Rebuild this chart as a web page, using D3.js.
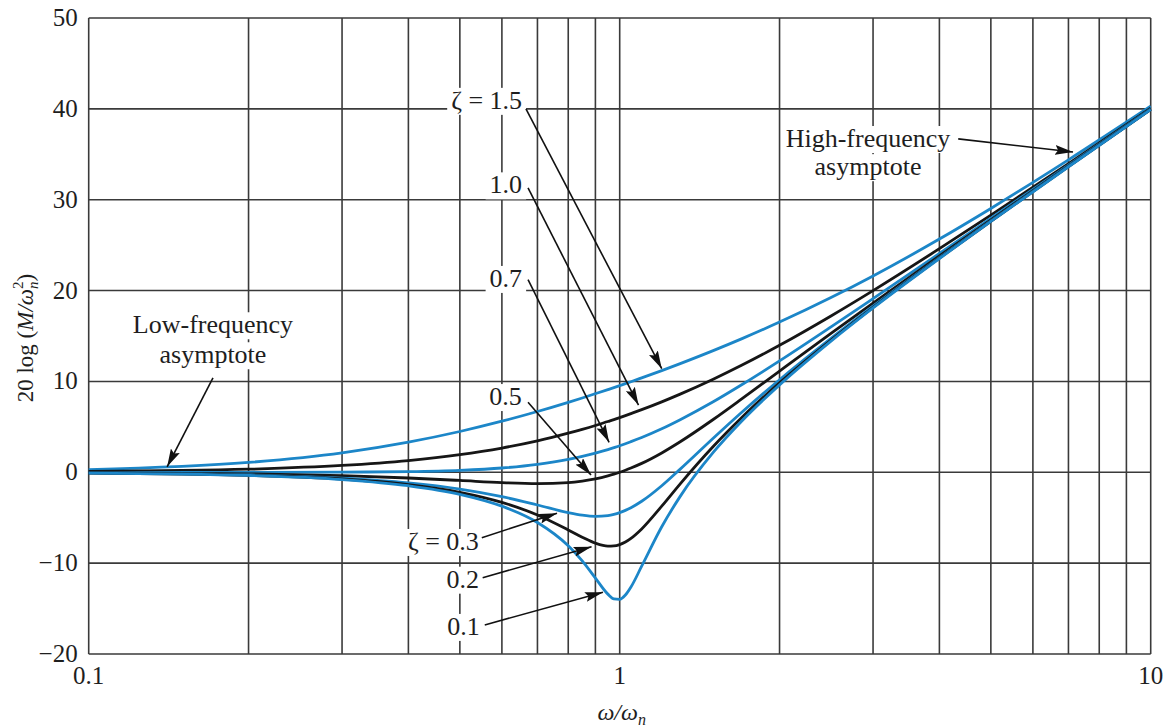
<!DOCTYPE html>
<html><head><meta charset="utf-8">
<script src="https://cdn.jsdelivr.net/npm/d3@7"></script>
<style>
body{margin:0;background:#fff}
svg{display:block}
text{font-family:"Liberation Serif","Times New Roman",serif;fill:#1e1e1e}
</style>
</head><body>
<svg id="chart" width="1172" height="728"></svg>
<script>
// ---- data ----
const ratio  = [0.1,0.2,0.3,0.4,0.5,0.6,0.7,0.8,0.85,0.9,0.95,0.975,1.0,1.025,1.05,1.1,1.2,1.3,1.5,1.7,2,2.5,3,4,5,7,10];
const zeta15 = [0.29,1.08,2.14,3.32,4.49,5.62,6.69,7.70,8.18,8.65,9.10,9.32,9.54,9.76,9.97,10.39,11.19,11.96,13.39,14.71,16.53,19.23,21.61,25.67,29.04,34.39,40.29];
const zeta10 = [0.09,0.34,0.75,1.29,1.94,2.67,3.46,4.30,4.72,5.15,5.59,5.80,6.02,6.24,6.46,6.89,7.75,8.60,10.24,11.80,13.98,17.21,20.00,24.61,28.30,33.98,40.09];
const zeta07 = [0.00,0.00,0.02,0.08,0.22,0.47,0.87,1.41,1.74,2.11,2.50,2.71,2.92,3.14,3.37,3.83,4.79,5.79,7.76,9.66,12.26,16.00,19.12,24.09,27.96,33.80,40.00];
const zeta05 = [-0.04,-0.17,-0.37,-0.63,-0.90,-1.14,-1.25,-1.14,-0.97,-0.73,-0.40,-0.21,0.00,0.23,0.47,0.98,2.13,3.36,5.81,8.10,11.14,15.29,18.63,23.82,27.79,33.72,39.96];
const zeta03 = [-0.07,-0.29,-0.65,-1.17,-1.85,-2.68,-3.60,-4.44,-4.72,-4.85,-4.76,-4.63,-4.44,-4.19,-3.90,-3.19,-1.48,0.35,3.75,6.64,10.19,14.74,18.28,23.63,27.67,33.66,39.93];
const zeta02 = [-0.08,-0.33,-0.74,-1.36,-2.20,-3.31,-4.70,-6.35,-7.15,-7.81,-8.13,-8.11,-7.96,-7.68,-7.28,-6.24,-3.73,-1.27,2.84,6.06,9.84,14.56,18.16,23.57,27.63,33.64,39.92];
const zeta01 = [-0.09,-0.35,-0.80,-1.48,-2.42,-3.73,-5.53,-8.09,-9.75,-11.64,-13.41,-13.93,-13.98,-13.51,-12.63,-10.34,-6.00,-2.65,2.18,5.67,9.62,14.44,18.09,23.53,27.61,33.63,39.92];
const seriesNames = ["1.5","1.0","0.7","0.5","0.3","0.2","0.1"];
const seriesValues = [zeta15,zeta10,zeta07,zeta05,zeta03,zeta02,zeta01];
const yTicks = [-20,-10,0,10,20,30,40,50];
const yTickLabels = ["\u221220","\u221210","0","10","20","30","40","50"];
const xTicks = [0.1,1,10];
const xTickLabels = ["0.1","1","10"];

// annotation labels: text, anchor point (ratio, dB), arrow from (ratio,dB) to (ratio,dB)
const annLabels = ["\u03B6 = 1.5","1.0","0.7","0.5","\u03B6 = 0.3","0.2","0.1"];
const annAt     = [[0.655,40.0],[0.655,30.7],[0.655,20.4],[0.654,7.4],[0.543,-8.55],[0.543,-12.7],[0.545,-17.9]];
const annFrom   = [[0.666,40.0],[0.672,31.3],[0.672,21.2],[0.672,7.7],[0.550,-7.2],[0.552,-11.6],[0.557,-16.8]];
const annTo     = [[1.20,11.4],[1.085,7.4],[0.955,3.3],[0.883,-0.3],[0.762,-4.5],[0.885,-8.2],[0.930,-13.2]];
const asymLabels = [["Low-frequency","asymptote"],["High-frequency","asymptote"]];
const asymAt     = [[0.1714,15.3,12.0],[2.935,35.8,32.7]];
const asymFrom   = [[0.1714,10.4],[4.34,36.7]];
const asymTo     = [[0.1405,0.6],[7.14,35.25]];

// ---- styles ----
const blue = "#1c86c8", black = "#161616", grid = "#3a3a3a";
const seriesColors = [blue,black,blue,black,blue,black,blue];

const svg = d3.select("#chart");
const x = d3.scaleLog().domain([0.1,10]).range([88.7,1150.7]);
const y = d3.scaleLinear().domain([-20,50]).range([654,18]);

// grid
const g = svg.append("g");
g.selectAll("line.v").data(x.ticks()).join("line")
  .attr("x1",d=>x(d)).attr("x2",d=>x(d)).attr("y1",y(-20)).attr("y2",y(50))
  .attr("stroke",grid).attr("stroke-width",1.6);
g.selectAll("line.h").data(yTicks).join("line")
  .attr("x1",x(0.1)).attr("x2",x(10)).attr("y1",d=>y(d)).attr("y2",d=>y(d))
  .attr("stroke",grid).attr("stroke-width",1.6);

// tick labels
svg.append("g").selectAll("text").data(yTicks).join("text")
  .attr("x",x(0.1)-11).attr("y",d=>y(d)+8).attr("text-anchor","end")
  .attr("font-size",25).text((d,i)=>yTickLabels[i]);
svg.append("g").selectAll("text").data(xTicks).join("text")
  .attr("x",d=>x(d)).attr("y",y(-20)+30).attr("text-anchor","middle")
  .attr("font-size",25).text((d,i)=>xTickLabels[i]);

// axis titles
const xt = svg.append("text").attr("x",x(1)+2).attr("y",720).attr("text-anchor","middle").attr("font-size",24);
xt.append("tspan").attr("font-style","italic").text("\u03C9/\u03C9");
xt.append("tspan").attr("font-style","italic").attr("font-size",16).attr("dy",5).text("n");
const yt = svg.append("text").attr("transform","translate(33,338) rotate(-90)").attr("text-anchor","middle").attr("font-size",23);
yt.append("tspan").text("20 log (");
yt.append("tspan").attr("font-style","italic").text("M/\u03C9");
yt.append("tspan").attr("font-size",15).attr("dy",-10).text("2");
yt.append("tspan").attr("font-size",15).attr("font-style","italic").attr("dx",-7.5).attr("dy",15).text("n");
yt.append("tspan").attr("dy",-5).text(")");

// curves
const line = d3.line().x(d=>x(d[0])).y(d=>y(d[1])).curve(d3.curveMonotoneX);
svg.append("g").selectAll("path").data(seriesValues).join("path")
  .attr("d",vals=>line(ratio.map((r,i)=>[r,vals[i]])))
  .attr("fill","none").attr("stroke",(d,i)=>seriesColors[i]).attr("stroke-width",2.8)
  .attr("stroke-linejoin","round");

// arrow marker
svg.append("defs").append("marker").attr("id","ah")
  .attr("markerUnits","userSpaceOnUse").attr("markerWidth",20).attr("markerHeight",10)
  .attr("refX",18).attr("refY",5).attr("orient","auto")
  .append("path").attr("d","M0,0 L18,5 L0,10 L3,5 Z").attr("fill","#111");

function maskedText(parent, tx, ty, str, anchor){
  const grp = parent.append("g");
  const rect = grp.append("rect").attr("fill","#fff");
  const t = grp.append("text").attr("x",tx).attr("y",ty).attr("text-anchor",anchor).attr("font-size",26).text(str);
  const b = t.node().getBBox();
  rect.attr("x",b.x-4).attr("y",b.y+2).attr("width",b.width+8).attr("height",b.height-2);
}

const ann = svg.append("g");
annLabels.forEach((s,i)=>{
  maskedText(ann, x(annAt[i][0]), y(annAt[i][1]), s, "end");
});
asymLabels.forEach((lines,i)=>{
  maskedText(ann, x(asymAt[i][0]), y(asymAt[i][1]), lines[0], "middle");
  maskedText(ann, x(asymAt[i][0]), y(asymAt[i][2]), lines[1], "middle");
});

const arrows = annFrom.map((f,i)=>[f,annTo[i]]).concat(asymFrom.map((f,i)=>[f,asymTo[i]]));
svg.append("g").selectAll("line").data(arrows).join("line")
  .attr("x1",d=>x(d[0][0])).attr("y1",d=>y(d[0][1]))
  .attr("x2",d=>x(d[1][0])).attr("y2",d=>y(d[1][1]))
  .attr("stroke","#111").attr("stroke-width",1.6).attr("marker-end","url(#ah)");
</script>
</body></html>
